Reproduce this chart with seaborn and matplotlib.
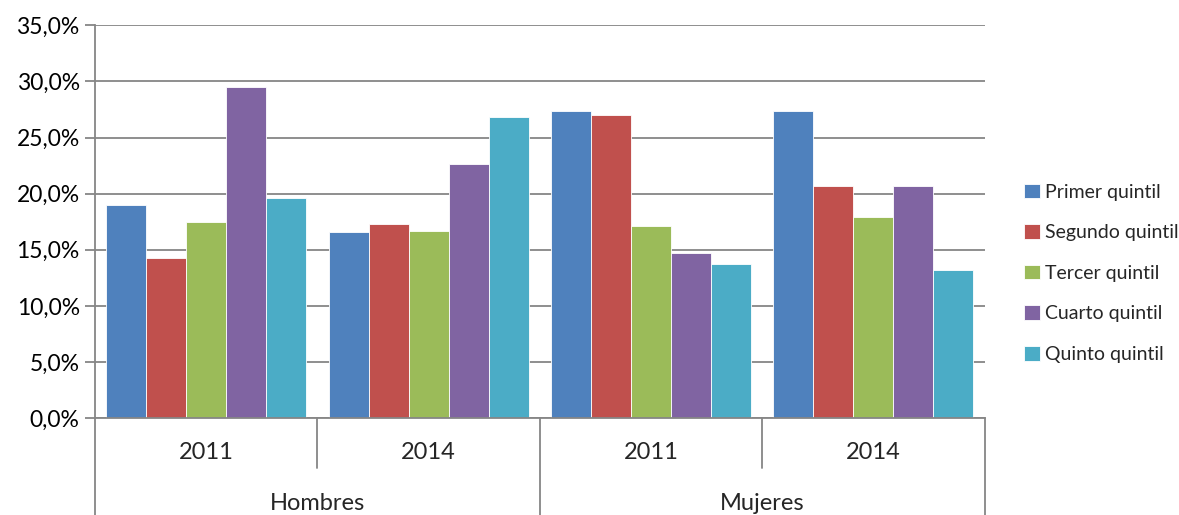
import numpy as np
import pandas as pd
import matplotlib
matplotlib.use("Agg")
import matplotlib.pyplot as plt
import matplotlib.transforms as mtransforms
from matplotlib.ticker import FuncFormatter
import seaborn as sns

sexos = ["Hombres", "Mujeres"]
anios = ["2011", "2014", "2011", "2014"]
quintiles = ["Primer quintil", "Segundo quintil", "Tercer quintil",
             "Cuarto quintil", "Quinto quintil"]

primer = [19.0, 16.6, 27.4, 27.4]
segundo = [14.3, 17.3, 27.0, 20.7]
tercer = [17.5, 16.7, 17.1, 17.9]
cuarto = [29.5, 22.6, 14.7, 20.7]
quinto = [19.6, 26.8, 13.7, 13.2]

colores = ["#4F81BD", "#C0504D", "#9BBB59", "#8064A2", "#4BACC6"]

series = [primer, segundo, tercer, cuarto, quinto]
rows = []
for q, vals in zip(quintiles, series):
    for i, v in enumerate(vals):
        rows.append({"pos": i, "quintil": q, "valor": v})
df = pd.DataFrame(rows)

sns.set_style("white")
plt.rcParams["font.family"] = ["Lato", "DejaVu Sans"]

fig = plt.figure(figsize=(11.79, 5.15), dpi=100)
ax = fig.add_axes([0.0806, 0.188, 0.7545, 0.763])

sns.barplot(data=df, x="pos", y="valor", hue="quintil", hue_order=quintiles,
            palette=colores, width=0.9, gap=0, ax=ax, native_scale=True,
            edgecolor="white", linewidth=0.6, saturation=1, errorbar=None)

grid_c = "#868686"
ax.set_ylim(0, 35)
ax.set_xlim(-0.5, 3.5)
ax.set_yticks(np.arange(0, 36, 5))
ax.yaxis.set_major_formatter(FuncFormatter(lambda v, p: f"{v:.1f}%".replace(".", ",")))
ax.yaxis.grid(True, color=grid_c, linewidth=1.3)
ax.set_axisbelow(True)
ax.tick_params(axis="y", which="major", length=7, width=1.3, color=grid_c,
               labelsize=16.5, left=True, pad=4, labelcolor="black")
ax.set_xticks([])
ax.set_xlabel("")
ax.set_ylabel("")
for s in ["top", "right"]:
    ax.spines[s].set_visible(False)
for s in ["left", "bottom"]:
    ax.spines[s].set_color(grid_c)
    ax.spines[s].set_linewidth(1.3)

# eje de categorias en dos niveles
trans = mtransforms.blended_transform_factory(ax.transData, ax.transAxes)
for xb in [-0.5, 1.5, 3.5]:
    ax.plot([xb, xb], [0, -0.25], color=grid_c, lw=1.3, transform=trans, clip_on=False)
for xb in [0.5, 2.5]:
    ax.plot([xb, xb], [0, -0.127], color=grid_c, lw=1.3, transform=trans, clip_on=False)
for i, a in enumerate(anios):
    ax.text(i, -0.087, a, transform=trans, ha="center", va="center", fontsize=17)
for i, s in enumerate(sexos):
    ax.text(2 * i + 0.5, -0.218, s, transform=trans, ha="center", va="center", fontsize=17)

ax.legend(loc="center left", bbox_to_anchor=(1.025, 0.369), frameon=False,
          fontsize=14, labelspacing=1.2, handlelength=0.8, handleheight=0.8,
          handletextpad=0.25, title=None)

fig.savefig("out.png", dpi=100)
